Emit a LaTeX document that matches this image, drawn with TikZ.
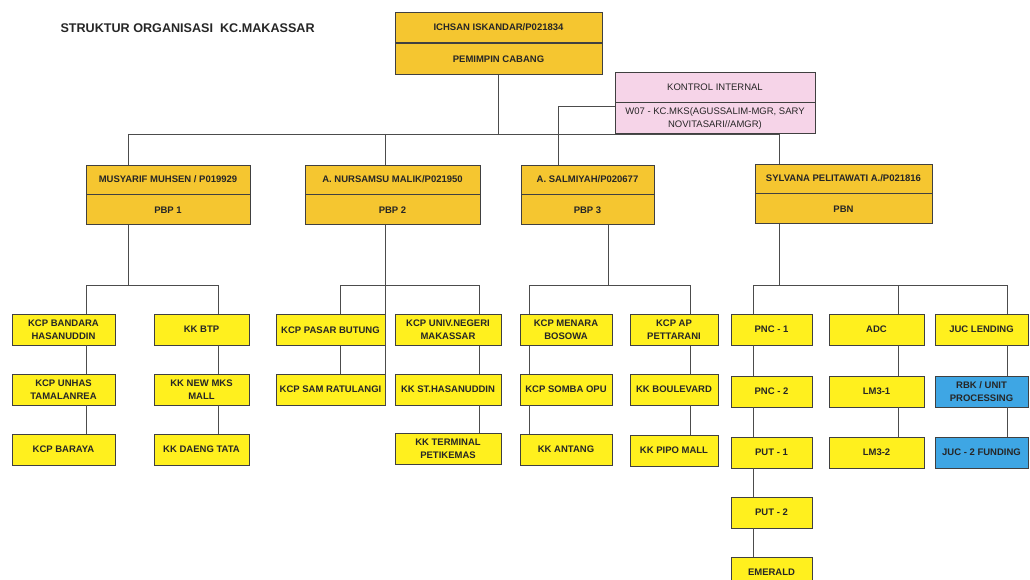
\documentclass[tikz,border=0pt]{standalone}
\usepackage{fontspec}
\setmainfont{Liberation Sans}
\usetikzlibrary{positioning}
\definecolor{gold}{RGB}{245,198,48}
\definecolor{leaf}{RGB}{255,240,30}
\definecolor{sky}{RGB}{62,166,228}
\definecolor{rose}{RGB}{246,212,232}

\begin{document}
\begin{tikzpicture}[x=1pt, y=-1pt,
  box/.style = {draw=black!75, line width=.75pt, inner sep=1pt, align=center, text=black!85, font=\bfseries\fontsize{9.5}{13}\selectfont},
  hd/.style = {box, fill=gold, minimum height=30pt},
  lf/.style = {box, fill=leaf, minimum height=31pt},
  bl/.style = {box, fill=sky, minimum height=31pt},
  ki/.style = {box, fill=rose, minimum width=200pt, font=\fontsize{9.5}{13}\selectfont},
  ln/.style = {draw=black!70, line width=.75pt}]
\useasboundingbox (0,0) rectangle (1030,580);
\clip (0,0) rectangle (1030,580);

\node[anchor=west, text=black!85, font=\bfseries\fontsize{12.6}{15}\selectfont] (title) at (57,28) {STRUKTUR ORGANISASI\ \ KC.MAKASSAR};

% pimpinan & kontrol internal
\node[hd, minimum width=207pt] (pc) at (498.5,27.5) {ICHSAN ISKANDAR/P021834};
\node[hd, minimum width=207pt, minimum height=31pt, below=0pt of pc] (pcr) {PEMIMPIN CABANG};
\node[ki, minimum height=30pt] (ki) at (715,87) {KONTROL INTERNAL};
\node[ki, minimum height=31pt, below=0pt of ki] (kir) {W07 - KC.MKS(AGUSSALIM-MGR, SARY\\NOVITASARI//AMGR)};

% PBP / PBN
\node[hd, minimum width=164pt, minimum height=29pt] (p1) at (168,179.5) {MUSYARIF MUHSEN / P019929};
\node[hd, minimum width=164pt, below=0pt of p1] (p1r) {PBP 1};
\node[hd, minimum width=175pt, minimum height=29pt] (p2) at (392.5,179.5) {A. NURSAMSU MALIK/P021950};
\node[hd, minimum width=175pt, below=0pt of p2] (p2r) {PBP 2};
\node[hd, minimum width=133pt, minimum height=29pt] (p3) at (587.5,179.5) {A. SALMIYAH/P020677};
\node[hd, minimum width=133pt, below=0pt of p3] (p3r) {PBP 3};
\node[hd, minimum width=177pt, minimum height=29pt] (pn) at (843.5,178.5) {SYLVANA PELITAWATI A./P021816};
\node[hd, minimum width=177pt, below=0pt of pn] (pnr) {PBN};

% unit PBP 1
\node[lf, minimum width=103pt] (a1) at (63.5,329.5) {KCP BANDARA\\HASANUDDIN};
\node[lf, minimum width=103pt] (a2) at (63.5,389.5) {KCP UNHAS\\TAMALANREA};
\node[lf, minimum width=103pt] (a3) at (63.5,449.5) {KCP BARAYA};
\node[lf, minimum width=95pt] (b1) at (201.5,329.5) {KK BTP};
\node[lf, minimum width=95pt] (b2) at (201.5,389.5) {KK NEW MKS\\MALL};
\node[lf, minimum width=95pt] (b3) at (201.5,449.5) {KK DAENG TATA};
% unit PBP 2
\node[lf, minimum width=109pt] (c1) at (330.5,330) {KCP PASAR BUTUNG};
\node[lf, minimum width=109pt] (c2) at (330.5,389.5) {KCP SAM RATULANGI};
\node[lf, minimum width=106pt] (d1) at (448,330) {KCP UNIV.NEGERI\\MAKASSAR};
\node[lf, minimum width=106pt] (d2) at (448,389.5) {KK ST.HASANUDDIN};
\node[lf, minimum width=106pt] (d3) at (448,449) {KK TERMINAL\\PETIKEMAS};
% unit PBP 3
\node[lf, minimum width=92pt] (e1) at (566,330) {KCP MENARA\\BOSOWA};
\node[lf, minimum width=92pt] (e2) at (566,389.5) {KCP SOMBA OPU};
\node[lf, minimum width=92pt] (e3) at (566,449.5) {KK ANTANG};
\node[lf, minimum width=88pt] (f1) at (674,330) {KCP AP\\PETTARANI};
\node[lf, minimum width=88pt] (f2) at (674,389.5) {KK BOULEVARD};
\node[lf, minimum width=88pt] (f3) at (674,450.5) {KK PIPO MALL};
% unit PBN
\node[lf, minimum width=81pt] (g1) at (771.5,329.5) {PNC - 1};
\node[lf, minimum width=81pt] (g2) at (771.5,391.5) {PNC - 2};
\node[lf, minimum width=81pt] (g3) at (771.5,452.5) {PUT - 1};
\node[lf, minimum width=81pt] (g4) at (771.5,512.5) {PUT - 2};
\node[lf, minimum width=81pt] (g5) at (771.5,572.5) {EMERALD};
\node[lf, minimum width=95pt] (h1) at (876.5,329.5) {ADC};
\node[lf, minimum width=95pt] (h2) at (876.5,391.5) {LM3-1};
\node[lf, minimum width=95pt] (h3) at (876.5,452.5) {LM3-2};
\node[lf, minimum width=93pt] (i1) at (981.5,329.5) {JUC LENDING};
\node[bl, minimum width=93pt] (i2) at (981.5,391.5) {RBK / UNIT\\PROCESSING};
\node[bl, minimum width=93pt] (i3) at (981.5,452.5) {JUC - 2 FUNDING};

% bus points
\coordinate (m1) at (128,134);
\coordinate (m2) at (385,134);
\coordinate (m3) at (558,134);
\coordinate (m4) at (779,134);
\coordinate (q1) at (128,285);
\coordinate (q2) at (385,285);
\coordinate (q3) at (608,285);
\coordinate (q4) at (779,285);
\coordinate (ca) at (86,285);
\coordinate (cb) at (218,285);
\coordinate (cc) at (340,285);
\coordinate (cd) at (479,285);
\coordinate (ce) at (529,285);
\coordinate (cf) at (690,285);
\coordinate (cg) at (753,285);
\coordinate (ch) at (898,285);
\coordinate (ci) at (1007,285);

% level 1
\draw[ln] (pcr) -- (pcr |- m1);
\draw[ln] (m1) -- (m4);
\draw[ln] (m1) -- (m1 |- p1.north);
\draw[ln] (m2) -- (m2 |- p2.north);
\draw[ln] ([yshift=12pt]kir.west) -| (m3 |- p3.north);
\draw[ln] (m4 |- kir.south) -- (m4 |- pn.north);
% level 2
\draw[ln] (q1 |- p1r.south) -- (q1);
\draw[ln] (ca) -- (cb);
\draw[ln] (q2 |- p2r.south) -- (q2 |- c2.south);
\draw[ln] (cc) -- (cd);
\draw[ln] (q3 |- p3r.south) -- (q3);
\draw[ln] (ce) -- (cf);
\draw[ln] (q4 |- pnr.south) -- (q4);
\draw[ln] (cg) -- (ci);
% level 3
\draw[ln] (ca) -- (ca |- a1.north) (ca |- a1.south) -- (ca |- a2.north) (ca |- a2.south) -- (ca |- a3.north);
\draw[ln] (cb) -- (cb |- b1.north) (cb |- b1.south) -- (cb |- b2.north) (cb |- b2.south) -- (cb |- b3.north);
\draw[ln] (cc) -- (cc |- c1.north) (cc |- c1.south) -- (cc |- c2.north);
\draw[ln] (cd) -- (cd |- d1.north) (cd |- d1.south) -- (cd |- d2.north) (cd |- d2.south) -- (cd |- d3.north);
\draw[ln] (ce) -- (ce |- e1.north) (ce |- e1.south) -- (ce |- e2.north) (ce |- e2.south) -- (ce |- e3.north);
\draw[ln] (cf) -- (cf |- f1.north) (cf |- f1.south) -- (cf |- f2.north) (cf |- f2.south) -- (cf |- f3.north);
\draw[ln] (cg) -- (cg |- g1.north) (cg |- g1.south) -- (cg |- g2.north) (cg |- g2.south) -- (cg |- g3.north)
  (cg |- g3.south) -- (cg |- g4.north) (cg |- g4.south) -- (cg |- g5.north);
\draw[ln] (ch) -- (ch |- h1.north) (ch |- h1.south) -- (ch |- h2.north) (ch |- h2.south) -- (ch |- h3.north);
\draw[ln] (ci) -- (ci |- i1.north) (ci |- i1.south) -- (ci |- i2.north) (ci |- i2.south) -- (ci |- i3.north);
\end{tikzpicture}
\end{document}
